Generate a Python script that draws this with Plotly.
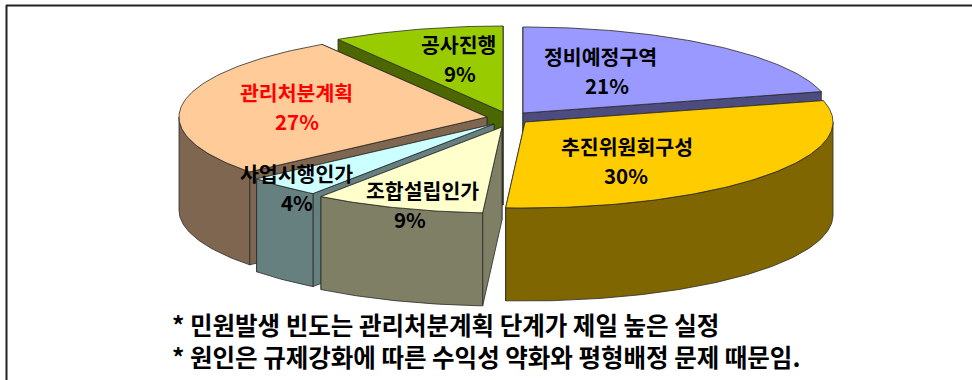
import math
import plotly.graph_objects as go

# Phase shares of complaints, clockwise from 12 o'clock
phases = ["정비예정구역", "추진위원회구성", "조합설립인가", "사업시행인가", "관리처분계획", "공사진행"]
shares = [21, 30, 9, 4, 27, 9]

top_colors = ["#9999FF", "#FFCC00", "#FFFFCC", "#CCFFFF", "#FFCC99", "#99CC00"]
wall_colors = ["#4C4C7F", "#7F6600", "#7F7F66", "#667F7F", "#7F6650", "#4C6600"]
label_colors = ["#000000", "#000000", "#000000", "#000000", "#FF0000", "#000000"]

notes = [
    "* 민원발생 빈도는 관리처분계획 단계가 제일 높은 실정",
    "* 원인은 규제강화에 따른 수익성 약화와 평형배정 문제 때문임.",
]

# Projected pie geometry, in page pixels
CX, CY = 505.0, 116.0
RX, RY = 308.0, 86.0
DEPTH = 93.0
# Explosion of each slice away from the common centre
explode = [(18, -3), (20, 6), (-3, 11), (-11, 8), (-18, 1), (-2, -4)]
# Name label centres relative to each slice's apex
label_offsets = [(77, -57), (102, 24), (-80, 63), (-198, 49), (-191, -25), (-45, -68)]
# Horizontal shift of the percentage relative to the name
percent_shift = [7, -1, -12, 1, 1, 2]
LINE_GAP = 29
# Painter's order: back slices first
draw_order = [5, 0, 4, 3, 2, 1]
EDGE = "#2a2a2a"


def point(ax, ay, deg, dz=0.0):
    r = math.radians(deg)
    return ax + RX * math.sin(r), ay - RY * math.cos(r) + dz


def arc(ax, ay, a0, a1, dz=0.0):
    n = max(2, int(abs(a1 - a0)))
    return [point(ax, ay, a0 + (a1 - a0) * i / n, dz) for i in range(n + 1)]


def poly(fig, pts, color):
    fig.add_trace(go.Scatter(
        x=[p[0] for p in pts] + [pts[0][0]],
        y=[p[1] for p in pts] + [pts[0][1]],
        mode="lines", fill="toself", fillcolor=color,
        line=dict(color=EDGE, width=0.8), hoverinfo="skip", showlegend=False,
    ))


fig = go.Figure()

# Cumulative start angles from the shares
total = sum(shares)
starts = []
acc = 0.0
for s in shares:
    starts.append(acc / total * 360)
    acc += s

for i in draw_order:
    a0 = starts[i]
    a1 = a0 + shares[i] / total * 360
    ax, ay = CX + explode[i][0], CY + explode[i][1]
    apex = (ax, ay)
    apex_low = (ax, ay + DEPTH)
    # Radial cut faces, the one nearer the viewer painted last
    for a in sorted((a0, a1), key=lambda d: -math.cos(math.radians(d))):
        p = point(ax, ay, a)
        poly(fig, [apex, p, (p[0], p[1] + DEPTH), apex_low], wall_colors[i])
    # Outer rim, only the part that faces the viewer (90..270 degrees)
    lo, hi = max(a0, 90), min(a1, 270)
    if hi > lo:
        poly(fig, arc(ax, ay, lo, hi) + arc(ax, ay, hi, lo, DEPTH), wall_colors[i])
    # Top face
    poly(fig, [apex] + arc(ax, ay, a0, a1), top_colors[i])

font_kr = "Noto Sans CJK KR"
for i, name in enumerate(phases):
    ax, ay = CX + explode[i][0], CY + explode[i][1]
    lx, ly = ax + label_offsets[i][0], ay + label_offsets[i][1]
    fig.add_annotation(x=lx, y=ly, text=f"<b>{name}</b>", showarrow=False,
                       font=dict(family=font_kr, size=20.5, color=label_colors[i]))
    fig.add_annotation(x=lx + percent_shift[i], y=ly + LINE_GAP, text=f"<b>{shares[i]}%</b>",
                       showarrow=False, font=dict(family=font_kr, size=20.5, color=label_colors[i]))

# Footnotes as one left-aligned block
fig.add_annotation(x=170, y=340, text="<br>".join(f"<b>{t}</b>" for t in notes), showarrow=False,
                   xanchor="left", align="left",
                   font=dict(family=font_kr, size=24.5, color="#000000"))

# Frame along the top and left
fig.add_shape(type="line", x0=6, x1=972, y0=5.5, y1=5.5, line=dict(color="#222222", width=2), layer="below")
fig.add_shape(type="line", x0=6.5, x1=6.5, y0=5, y1=380, line=dict(color="#222222", width=2), layer="below")

fig.update_xaxes(range=[0, 972], visible=False)
fig.update_yaxes(range=[380, 0], visible=False)
fig.update_layout(width=972, height=380, margin=dict(l=0, r=0, t=0, b=0),
                  paper_bgcolor="white", plot_bgcolor="white", showlegend=False)
fig.write_html("out.html")
